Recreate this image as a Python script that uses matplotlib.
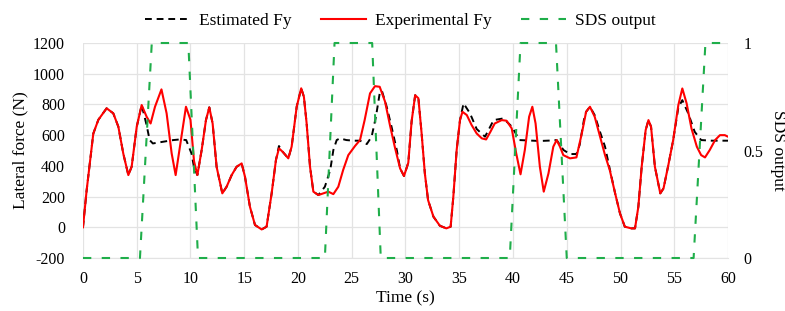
import matplotlib
matplotlib.use("Agg")
import matplotlib.pyplot as plt

plt.rcParams["font.family"] = ["Liberation Serif", "DejaVu Serif"]
plt.rcParams["axes.unicode_minus"] = False

# Experimental lateral force (red)
exp_t = [0, 0.34, 0.96, 1.43, 2.2, 2.82, 3.29, 3.75, 4.22, 4.53, 5.0, 5.46, 5.92, 6.29,
         6.7, 7.3, 7.78, 8.25, 8.62, 9.02, 9.58, 10.0, 10.33, 10.64, 11.04, 11.44, 11.75,
         12.06, 12.43, 12.96, 13.36, 13.83, 14.29, 14.76, 15.07, 15.53, 16.0, 16.62, 17.08,
         17.55, 17.95, 18.23, 18.57, 19.1, 19.41, 19.88, 20.3, 20.55, 20.8, 21.12, 21.43,
         21.9, 22.36, 22.82, 23.29, 23.75, 24.2, 24.68, 25.3, 25.77, 26.2, 26.7, 27.16,
         27.6, 28.1, 28.55, 29.0, 29.5, 29.86, 30.26, 30.57, 30.9, 31.2, 31.5, 31.8, 32.1,
         32.6, 33.2, 33.8, 34.2, 34.45, 34.76, 35.07, 35.3, 35.7, 36.15, 36.62, 37.1, 37.5,
         37.9, 38.3, 38.95, 39.4, 39.88, 40.3, 40.7, 41.1, 41.5, 41.8, 42.1, 42.5, 42.86,
         43.3, 43.75, 44.06, 44.37, 44.68, 45.3, 45.9, 46.4, 46.8, 47.16, 47.6, 48.1, 48.56,
         49.0, 49.5, 49.95, 50.4, 51.0, 51.35, 51.66, 51.97, 52.34, 52.6, 52.84, 53.2, 53.7,
         54.0, 54.45, 54.9, 55.38, 55.75, 56.15, 56.6, 57.1, 57.5, 57.86, 58.3, 58.8, 59.25,
         59.7, 60.0]
exp_f = [0, 240, 610, 700, 775, 742, 655, 480, 340, 395, 655, 796, 720, 676,
         785, 898, 742, 481, 340, 525, 785, 700, 430, 340, 503, 698, 781,
         676, 394, 221, 264, 340, 394, 416, 329, 134, 15, -14, 4,
         221, 438, 514, 492, 449, 525, 785, 905, 850, 680, 394, 232,
         210, 221, 232, 216, 264, 373, 470, 529, 568, 698, 872, 919,
         915, 818, 666, 525, 383, 334, 420, 690, 860, 840, 611, 351, 177,
         69, 10, -7, 4, 199, 503, 698, 752, 731, 666, 611, 579, 572,
         622, 676, 698, 694, 644, 481, 345, 503, 720, 785, 676, 394, 232,
         351, 525, 568, 525, 470, 449, 455, 611, 752, 785, 720, 590, 470,
         373, 221, 91, 4, -7, -7, 134, 394, 633, 698, 655, 394, 221,
         253, 405, 568, 796, 904, 807, 644, 525, 470, 455, 503, 568, 600,
         600, 590]

# Estimated lateral force (black dashed)
est_t = [0, 0.34, 0.96, 1.43, 2.2, 2.82, 3.29, 3.75, 4.22, 4.53, 5.0, 5.46, 5.92, 6.2,
         6.5, 7.47, 8.4, 9.0, 9.6, 10.1, 10.33, 10.64, 11.04, 11.44, 11.75, 12.06, 12.43,
         12.96, 13.36, 13.83, 14.29, 14.76, 15.07, 15.53, 16.0, 16.62, 17.08, 17.55, 17.95,
         18.23, 18.57, 19.1, 19.41, 19.88, 20.3, 20.55, 20.8, 21.12, 21.43, 21.9, 22.5,
         23.0, 23.29, 23.6, 23.9, 24.5, 25.15, 25.77, 26.4, 26.85, 27.25, 27.6, 27.8, 28.25,
         28.7, 29.2, 29.5, 29.86, 30.26, 30.57, 30.9, 31.2, 31.5, 31.8, 32.1, 32.6, 33.2,
         33.8, 34.2, 34.45, 34.76, 35.07, 35.4, 36.0, 36.62, 37.4, 38.2, 39.1, 39.9, 40.6,
         41.5, 42.5, 43.5, 44.06, 44.7, 45.3, 45.9, 46.2, 46.6, 46.8, 47.16, 47.6, 48.1,
         48.56, 49.0, 49.5, 49.95, 50.4, 51.0, 51.35, 51.66, 51.97, 52.34, 52.6, 52.84, 53.2,
         53.7, 54.0, 54.45, 54.9, 55.38, 55.75, 56.3, 56.9, 57.5, 58.5, 59.7, 60.0]
est_f = [0, 240, 610, 700, 775, 742, 655, 480, 340, 395, 655, 796, 665, 568,
         546, 557, 568, 572, 568, 480, 390, 340, 503, 698, 781, 676, 394,
         221, 264, 340, 394, 416, 329, 134, 15, -14, 4, 221, 438,
         529, 492, 449, 525, 785, 905, 850, 680, 394, 232, 210, 264,
         373, 503, 568, 579, 568, 564, 564, 542, 590, 720, 872, 890, 785,
         655, 500, 383, 334, 420, 690, 860, 840, 611, 351, 177, 69, 10,
         -7, 4, 199, 503, 698, 807, 742, 640, 590, 698, 709, 655, 568,
         565, 562, 565, 568, 503, 477, 477, 536, 700, 752, 785, 730, 620,
         525, 380, 221, 91, 4, -7, -7, 134, 394, 633, 698, 655, 394,
         221, 253, 405, 568, 780, 828, 742, 622, 568, 564, 564, 564]

# SDS output (green dashed, right axis)
sds_t = [0, 5.3, 6.4, 9.8, 10.7, 22.5, 23.4, 26.9, 27.7, 39.7, 40.7, 44.0, 45.0, 56.8, 57.9, 60]
sds_v = [0, 0, 1, 1, 0, 0, 1, 1, 0, 0, 1, 1, 0, 0, 1, 1]

fig = plt.figure(figsize=(7.85, 3.11), dpi=100)
ax = fig.add_axes([0.1057, 0.1704, 0.8217, 0.6913])
ax2 = ax.twinx()

grid_c = "#e3e3e3"
l1, = ax.plot(est_t, est_f, color="black", ls=(0, (3.5, 2.5)), lw=1.4, label="Estimated Fy")
l2, = ax.plot(exp_t, exp_f, color="#ff0000", lw=1.5, label="Experimental Fy")
l3, = ax2.plot(sds_t, sds_v, color="#1fae4a", ls=(0, (4, 5)), lw=1.5,
               label="SDS output", clip_on=False)

ax.set_xlim(0, 60)
ax.set_ylim(-200, 1200)
ax.set_xticks(range(0, 61, 5))
ax.set_yticks(range(-200, 1201, 200))
ax2.set_ylim(0, 1)
ax2.set_yticks([0, 0.5, 1])
ax2.set_yticklabels(["0", "0.5", "1"])

ax.grid(True, color=grid_c, lw=0.9)
ax.set_axisbelow(True)
for a in (ax, ax2):
    for s in a.spines.values():
        s.set_visible(False)
    a.tick_params(length=0, labelsize=11.5)
ax.tick_params(axis="y", pad=13)
ax.tick_params(axis="x", pad=9)
ax2.tick_params(axis="y", pad=11)
ax.spines["bottom"].set_visible(True)
ax.spines["bottom"].set_color(grid_c)

ax.set_xlabel("Time (s)", fontsize=12.5, labelpad=3)
ax.set_ylabel("Lateral force (N)", fontsize=12.5, labelpad=3)
# right-hand label placed by hand so it sits clear of the 0.5 tick label
fig.text(778 / 785, 0.516, "SDS output", fontsize=12.5, rotation=270,
         ha="center", va="center")

fig.legend(handles=[l1, l2, l3], loc="upper center", bbox_to_anchor=(0.51, 1.01),
           ncol=3, frameon=False, fontsize=12.5, handlelength=2.6,
           handletextpad=0.5, columnspacing=1.7)

fig.savefig("out.png", dpi=100)
